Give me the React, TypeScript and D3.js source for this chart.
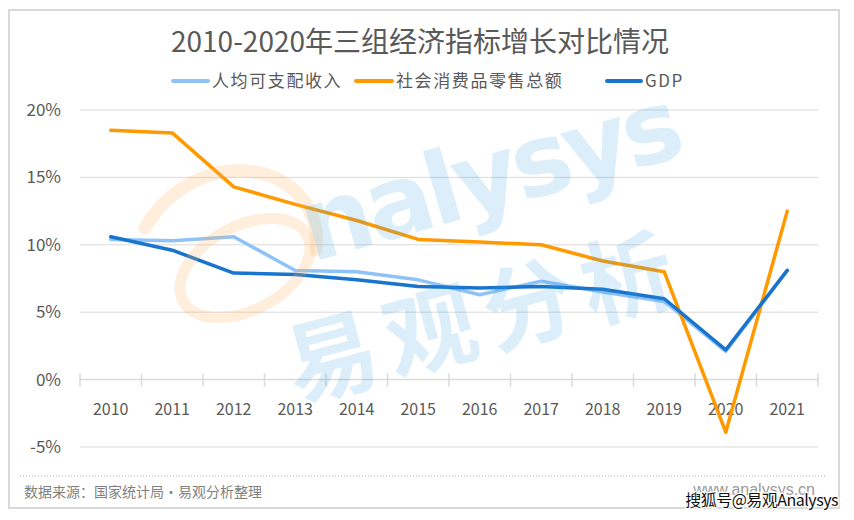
import React from "react";
import * as d3 from "d3";

const years = ["2010","2011","2012","2013","2014","2015","2016","2017","2018","2019","2020","2021"];
const income = [10.4, 10.3, 10.6, 8.1, 8.0, 7.4, 6.3, 7.3, 6.5, 5.8, 2.1, 8.1];
const retail = [18.5, 18.3, 14.3, 13.0, 11.8, 10.4, 10.2, 10.0, 8.8, 8.0, -3.9, 12.5];
const gdp = [10.6, 9.6, 7.9, 7.8, 7.4, 6.9, 6.8, 6.9, 6.7, 6.0, 2.2, 8.1];
const yTicks = [-5, 0, 5, 10, 15, 20];
const seriesNames = ["人均可支配收入", "社会消费品零售总额", "GDP"];
const seriesColors = ["#8fc3f7", "#ff9900", "#1874cd"];
const title = "2010-2020年三组经济指标增长对比情况";
const source = "数据来源：国家统计局•易观分析整理";

const FONT = "'Noto Sans CJK SC', 'Noto Sans', sans-serif";

export default function App() {
  const W = 854, H = 520;
  const x = d3.scaleBand<string>().domain(years).range([80, 818]);
  const y = d3.scaleLinear().domain([-5, 20]).range([447, 110]);
  const line = d3.line<number>()
    .x((_, i) => (x(years[i]) as number) + x.bandwidth() / 2)
    .y((d) => y(d));
  const data = [income, retail, gdp];
  const legendItems = [
    { x: 173, w: 35 },
    { x: 356, w: 36 },
    { x: 607, w: 34 },
  ];
  const bounds = [...years.map((yr) => x(yr) as number), 818];
  const wm = "#3a9ee0";

  return (
    <svg width={W} height={H} style={{ position: "absolute", left: 0, top: 0, fontFamily: FONT }}>
      <rect x={0} y={0} width={W} height={H} fill="#fff" />
      <rect x={9} y={10} width={830} height={498} fill="#fff" stroke="#d9d9d9" strokeWidth={2} />
      <text x={420} y={52} textAnchor="middle" fontSize={28} fill="#595959">{title}</text>

      {/* legend */}
      {seriesNames.map((n, i) => (
        <g key={n}>
          <line x1={legendItems[i].x} x2={legendItems[i].x + legendItems[i].w} y1={81} y2={81}
            stroke={seriesColors[i]} strokeWidth={4} strokeLinecap="round" />
          <text x={legendItems[i].x + legendItems[i].w + 4} y={87} fontSize={17} letterSpacing={1.6} fill="#595959">{n}</text>
        </g>
      ))}

      {/* gridlines */}
      {yTicks.filter((t) => t !== 0).map((t) => (
        <line key={t} x1={80} x2={818} y1={y(t)} y2={y(t)} stroke="#d9d9d9" strokeWidth={1} />
      ))}
      {yTicks.map((t) => (
        <text key={"l" + t} x={61} y={y(t) + 6} textAnchor="end" fontSize={17} fill="#595959">{t + "%"}</text>
      ))}

      {/* x axis */}
      <line x1={80} x2={818} y1={y(0)} y2={y(0)} stroke="#d9d9d9" strokeWidth={1.5} />
      {bounds.map((b, i) => (
        <line key={"t" + i} x1={b} x2={b} y1={y(0) - 6} y2={y(0) + 7} stroke="#d9d9d9" strokeWidth={1.5} />
      ))}
      {years.map((yr) => (
        <text key={yr} x={(x(yr) as number) + x.bandwidth() / 2} y={415} textAnchor="middle" fontSize={16} fill="#595959">{yr}</text>
      ))}

      {/* lines */}
      {data.map((d, i) => (
        <path key={i} d={line(d) as string} fill="none" stroke={seriesColors[i]} strokeWidth={3.5}
          strokeLinejoin="round" strokeLinecap="round" />
      ))}

      {/* watermark (semi-transparent overlay) */}
      <g>
        <path d="M145,228 C170,185 215,165 255,172 C300,180 320,215 316,250" fill="none"
          stroke="#fbb35a" strokeOpacity={0.22} strokeWidth={13} strokeLinecap="round" />
        <g transform="translate(245,268) rotate(-28)">
          <ellipse cx={0} cy={0} rx={70} ry={42} fill="none" stroke="#fbb35a" strokeOpacity={0.22} strokeWidth={11} />
        </g>
        <text x={312} y={262} fontSize={100} fontWeight="bold" fill={wm} fillOpacity={0.18} transform="rotate(-16 312 262)"
          fontFamily="'DejaVu Sans', sans-serif" letterSpacing={-5}>nalysys</text>
        <text x={296} y={402} fontSize={92} fontWeight="bold" fill={wm} fillOpacity={0.18} transform="rotate(-15 296 402)"
          letterSpacing={10}>易观分析</text>
      </g>

      {/* footer */}
      <line x1={20} x2={825} y1={476} y2={476} stroke="#a6a6a6" strokeWidth={1} strokeDasharray="1 2" />
      <text x={24} y={497} fontSize={14} fill="#7f7f7f">{source}</text>
      <text x={815} y={495} textAnchor="end" fontSize={16} fill="#9a9a9a" fontFamily="'Liberation Sans', sans-serif">www.analysys.cn</text>
      <text x={838} y={506} textAnchor="end" fontSize={16} fill="#111" stroke="#fff" strokeWidth={2.5} paintOrder="stroke"
        letterSpacing={-0.5} fontFamily="'Noto Sans CJK SC', 'Liberation Sans', sans-serif">搜狐号@易观Analysys</text>
    </svg>
  );
}
